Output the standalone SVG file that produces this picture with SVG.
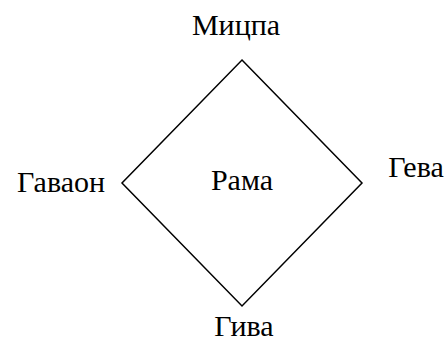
<svg xmlns="http://www.w3.org/2000/svg" width="448" height="342" viewBox="0 0 448 342">
<style>
text{font-family:"Liberation Serif","Times New Roman",serif;font-size:30px;fill:#000}
.e{fill:none;stroke:#000;stroke-width:1.5}
</style>
<rect width="448" height="342" fill="#fff"/>
<g id="connectors">
<polygon class="e" points="242,60 362,183 242,306 122,183"/>
</g>
<g id="mizpah"><text x="236" y="35" text-anchor="middle">Мицпа</text></g>
<g id="gibeon"><text x="61" y="192" text-anchor="middle">Гаваон</text></g>
<g id="ramah"><text x="242" y="190" text-anchor="middle">Рама</text></g>
<g id="geba"><text x="416" y="177" text-anchor="middle">Гева</text></g>
<g id="gibeah"><text x="244" y="336" text-anchor="middle">Гива</text></g>
</svg>
